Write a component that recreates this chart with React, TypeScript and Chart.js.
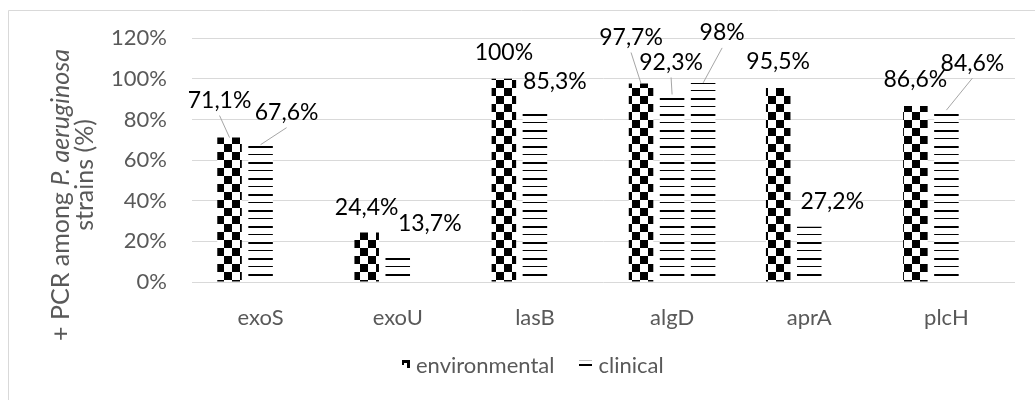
import React, { useEffect, useRef } from 'react';
import { Chart, registerables } from 'chart.js';

Chart.register(...registerables);

// ---------- data ----------
const categories = ['exoS', 'exoU', 'lasB', 'algD', 'aprA', 'plcH'];
const environmental = [71.1, 24.4, 100, 97.7, 95.5, 86.6];
const clinical = [67.6, 13.7, 85.3, 92.3, 27.2, 84.6];
const clinicalExtra = [null, null, null, 98, null, null];
const seriesNames = ['environmental', 'clinical'];
const yTicks = [0, 20, 40, 60, 80, 100, 120];
const yTitleLine1 = [
  { text: '+ PCR among ', italic: false },
  { text: 'P. aeruginosa', italic: true },
];
const yTitleLine2 = [{ text: 'strains (%)', italic: false }];

// ---------- label placement (text centre relative to bar top; leader line?) ----------
type LabelPos = [number, number, boolean] | null;
const envLabelPos: LabelPos[] = [[-10, -37, true], [0, -25, false], [0, -26, false], [-10, -46, true], [0, -26, false], [0, -26, false]];
const clinLabelPos: LabelPos[] = [[26, -32, true], [32, -31, false], [20, -27, false], [-1, -32, true], [23, -25, false], [26, -47, true]];
const extraLabelPos: LabelPos[] = [null, null, null, [19, -50, true], null, null];
const labelPositions = [envLabelPos, clinLabelPos, extraLabelPos];

// ---------- style ----------
const FONT = 'Lato, "Open Sans", sans-serif';
const AXIS_GRAY = '#595959';
const GRID = '#d9d9d9';
const LEADER = '#a6a6a6';
const AXIS_FONT_SIZE = 22;
const LABEL_FONT_SIZE = 23;
const TITLE_FONT_SIZE = 25;
const LEGEND_CX = 533;
const LEGEND_Y = 366;

function makeChecker(ctx: CanvasRenderingContext2D): CanvasPattern {
  const c = document.createElement('canvas');
  c.width = 16;
  c.height = 16;
  const g = c.getContext('2d')!;
  g.fillStyle = '#fff';
  g.fillRect(0, 0, 16, 16);
  g.fillStyle = '#000';
  g.fillRect(0, 0, 8, 8);
  g.fillRect(8, 8, 8, 8);
  return ctx.createPattern(c, 'repeat')!;
}

function makeHLines(ctx: CanvasRenderingContext2D): CanvasPattern {
  const c = document.createElement('canvas');
  c.width = 8;
  c.height = 16;
  const g = c.getContext('2d')!;
  g.fillStyle = '#fff';
  g.fillRect(0, 0, 8, 16);
  g.fillStyle = '#000';
  g.fillRect(0, 2, 8, 2);
  g.fillRect(0, 10, 8, 1);
  return ctx.createPattern(c, 'repeat')!;
}

// small legend icons mimicking the pattern swatches
function drawCheckerIcon(c: CanvasRenderingContext2D, x: number, y: number) {
  c.fillStyle = '#000';
  c.fillRect(x, y, 8, 3);
  c.fillRect(x + 5, y + 3, 3, 5);
  c.fillRect(x, y + 3, 2, 2);
}
function drawLinesIcon(c: CanvasRenderingContext2D, x: number, y: number) {
  c.fillStyle = '#bfbfbf';
  c.fillRect(x, y, 13, 1);
  c.fillStyle = '#000';
  c.fillRect(x, y + 4, 13, 2);
}

const fmt = (v: number) => String(v).replace('.', ',') + '%';

export default function App() {
  const ref = useRef<HTMLCanvasElement>(null);

  useEffect(() => {
    const canvas = ref.current!;
    const ctx0 = canvas.getContext('2d')!;
    const checker = makeChecker(ctx0);
    const hlines = makeHLines(ctx0);
    const icons = [drawCheckerIcon, drawLinesIcon];
    const iconWidths = [8, 13];

    const frame = {
      id: 'frame',
      beforeDraw(chart: any) {
        const c = chart.ctx;
        c.save();
        c.fillStyle = '#fff';
        c.fillRect(0, 0, chart.width, chart.height);
        c.strokeStyle = GRID;
        c.lineWidth = 1;
        c.beginPath();
        c.moveTo(8.5, chart.height);
        c.lineTo(8.5, 10.5);
        c.lineTo(chart.width, 10.5);
        c.stroke();
        c.restore();
      },
    };

    const dataLabels = {
      id: 'dataLabels',
      afterDatasetsDraw(chart: any) {
        const c = chart.ctx;
        c.save();
        c.font = `${LABEL_FONT_SIZE}px ${FONT}`;
        c.textAlign = 'center';
        c.textBaseline = 'middle';
        chart.data.datasets.forEach((ds: any, di: number) => {
          const meta = chart.getDatasetMeta(di);
          ds.data.forEach((v: number | null, i: number) => {
            if (v == null) return;
            const pos = labelPositions[di][i];
            if (!pos) return;
            const el = meta.data[i];
            const lx = el.x + pos[0];
            const ly = el.y + pos[1];
            if (pos[2]) {
              c.strokeStyle = LEADER;
              c.lineWidth = 1;
              c.beginPath();
              c.moveTo(lx, ly + 15);
              c.lineTo(el.x, el.y);
              c.stroke();
            }
            c.fillStyle = '#000';
            c.fillText(fmt(v), lx, ly);
          });
        });
        c.restore();
      },
    };

    const legend = {
      id: 'customLegend',
      afterDraw(chart: any) {
        const c = chart.ctx;
        c.save();
        c.font = `${AXIS_FONT_SIZE}px ${FONT}`;
        c.textBaseline = 'middle';
        c.textAlign = 'left';
        const GAP = 6, SP = 25;
        const items = seriesNames.map((n, i) => ({ n, i, w: c.measureText(n).width }));
        const total = items.reduce((s, it) => s + iconWidths[it.i] + GAP + it.w, 0) + SP * (items.length - 1);
        let x = Math.round(LEGEND_CX - total / 2);
        items.forEach((it) => {
          icons[it.i](c, Math.round(x), LEGEND_Y - 6);
          x += iconWidths[it.i] + GAP;
          c.fillStyle = AXIS_GRAY;
          c.fillText(it.n, x, LEGEND_Y);
          x += it.w + SP;
        });
        c.restore();
      },
    };

    const yTitle = {
      id: 'yTitle',
      afterDraw(chart: any) {
        const c = chart.ctx;
        const draw = (parts: { text: string; italic: boolean }[], cx: number, cy: number) => {
          const widths = parts.map((p) => {
            c.font = `${p.italic ? 'italic ' : ''}${TITLE_FONT_SIZE}px ${FONT}`;
            return c.measureText(p.text).width;
          });
          const total = widths.reduce((a, b) => a + b, 0);
          c.save();
          c.translate(cx, cy);
          c.rotate(-Math.PI / 2);
          c.fillStyle = AXIS_GRAY;
          c.textBaseline = 'middle';
          c.textAlign = 'left';
          let x = -total / 2;
          parts.forEach((p, k) => {
            c.font = `${p.italic ? 'italic ' : ''}${TITLE_FONT_SIZE}px ${FONT}`;
            c.fillText(p.text, x, 0);
            x += widths[k];
          });
          c.restore();
        };
        draw(yTitleLine1, 61, 195);
        draw(yTitleLine2, 85, 175);
      },
    };

    const chart = new Chart(canvas, {
      type: 'bar',
      data: {
        labels: categories,
        datasets: [
          { label: seriesNames[0], data: environmental, backgroundColor: checker, borderWidth: 0 },
          { label: seriesNames[1], data: clinical, backgroundColor: hlines, borderWidth: 0 },
          { label: seriesNames[1], data: clinicalExtra as any, backgroundColor: hlines, borderWidth: 0 },
        ],
      },
      options: {
        responsive: false,
        maintainAspectRatio: false,
        animation: false,
        devicePixelRatio: 1,
        layout: { padding: { left: 0, right: 20, top: 38, bottom: 0 } },
        datasets: { bar: { categoryPercentage: 0.679, barPercentage: 0.79 } },
        plugins: { legend: { display: false }, tooltip: { enabled: false } },
        scales: {
          x: {
            grid: { display: false },
            border: { display: false },
            ticks: { color: AXIS_GRAY, font: { family: FONT, size: AXIS_FONT_SIZE }, padding: 15, maxRotation: 0 },
            afterFit: (s: any) => { s.height = 118; },
          },
          y: {
            min: 0,
            max: 120,
            grid: { color: GRID, drawTicks: false },
            border: { display: false },
            ticks: {
              padding: 25,
              color: AXIS_GRAY,
              font: { family: FONT, size: AXIS_FONT_SIZE },
              callback: (v: any) => v + '%',
            },
            afterBuildTicks: (s: any) => { s.ticks = yTicks.map((v) => ({ value: v })); },
            afterFit: (s: any) => { s.width = 192; },
          },
        },
      } as any,
      plugins: [frame, dataLabels, legend, yTitle],
    });

    return () => chart.destroy();
  }, []);

  return (
    <div>
      <style>{'html,body{margin:0;padding:0;overflow:hidden;background:#fff}'}</style>
      <canvas ref={ref} width={1035} height={400} style={{ display: 'block' }} />
    </div>
  );
}
